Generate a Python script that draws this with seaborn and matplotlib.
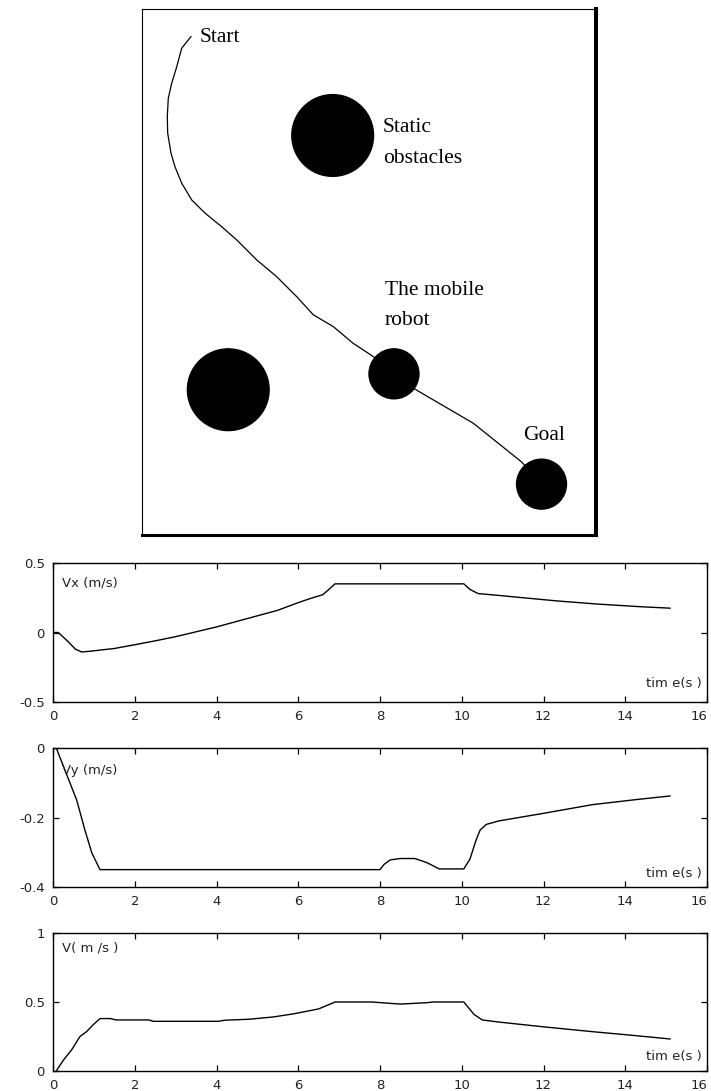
import matplotlib
matplotlib.use("Agg")
import matplotlib.pyplot as plt
from matplotlib.patches import Circle
import pandas as pd
import seaborn as sns

# ---- workspace (m) ----
obstacle_x = [4.2, 1.9]
obstacle_y = [8.8, 3.2]
obstacle_r = [0.9, 0.9]
robot_x, robot_y, robot_r = 5.55, 3.55, 0.55
goal_x, goal_y, goal_r = 8.8, 1.12, 0.55

path_x = [1.08, 0.874, 0.764, 0.654, 0.579, 0.557, 0.566, 0.639, 0.727,
          0.874, 1.095, 1.388, 1.755, 2.086, 2.526, 2.967, 3.407, 3.773,
          4.214, 4.654, 5.095, 5.55, 6.05, 7.30, 8.36, 8.80]
path_y = [10.98, 10.72, 10.31, 9.95, 9.62, 9.21, 8.85, 8.41, 8.11,
          7.75, 7.38, 7.09, 6.79, 6.50, 6.06, 5.69, 5.25, 4.85,
          4.59, 4.22, 3.93, 3.55, 3.19, 2.46, 1.61, 1.12]

map_labels = ["Start", "Static", "obstacles", "The mobile", "robot", "Goal"]
label_x = [1.28, 5.31, 5.31, 5.35, 5.35, 8.40]
label_y = [10.87, 8.88, 8.19, 5.29, 4.63, 2.09]

# ---- velocity profiles ----
vx_t = [0.0, 0.13, 0.35, 0.55, 0.7, 0.9, 1.5, 2.0, 2.5, 3.0, 3.5, 4.0, 4.5,
        5.0, 5.5, 6.0, 6.3, 6.6, 6.75, 6.9, 8.0, 9.0, 10.05, 10.2, 10.4,
        10.9, 11.5, 12.3, 13.3, 14.4, 15.1]
vx_v = [0.0, 0.0, -0.06, -0.12, -0.14, -0.135, -0.115, -0.088, -0.06, -0.03,
        0.005, 0.04, 0.08, 0.12, 0.16, 0.215, 0.245, 0.272, 0.31, 0.35, 0.35,
        0.35, 0.35, 0.31, 0.28, 0.267, 0.25, 0.228, 0.205, 0.185, 0.175]

vy_t = [0.08, 0.37, 0.58, 0.78, 0.95, 1.15, 8.0, 8.1, 8.25, 8.5, 8.85, 9.15,
        9.45, 10.05, 10.2, 10.35, 10.45, 10.6, 10.9, 12.0, 13.2, 14.3, 15.1]
vy_v = [0.0, -0.087, -0.15, -0.236, -0.302, -0.35, -0.35, -0.335, -0.322,
        -0.318, -0.318, -0.33, -0.348, -0.348, -0.32, -0.265, -0.236, -0.22,
        -0.21, -0.188, -0.163, -0.148, -0.138]

v_t = [0.08, 0.25, 0.46, 0.66, 0.82, 1.0, 1.15, 1.4, 1.55, 2.35, 2.45, 4.05,
       4.2, 4.8, 5.4, 5.9, 6.5, 6.9, 7.8, 8.5, 9.15, 9.3, 10.05, 10.3, 10.5,
       10.9, 12.0, 13.2, 14.3, 15.1]
v_v = [0.0, 0.077, 0.155, 0.25, 0.285, 0.34, 0.38, 0.38, 0.37, 0.37, 0.36,
       0.36, 0.368, 0.375, 0.392, 0.415, 0.45, 0.5, 0.5, 0.485, 0.495, 0.5,
       0.5, 0.41, 0.37, 0.355, 0.32, 0.285, 0.255, 0.232]

time_ticks = [0, 2, 4, 6, 8, 10, 12, 14, 16]
panels = [
    dict(t=vx_t, v=vx_v, ylim=(-0.5, 0.5), yticks=[-0.5, 0, 0.5],
         yticklabels=["-0.5", "0", "0.5"], name="Vx (m/s)",
         top=563, bottom=702, name_y=0.856, time_y=0.13),
    dict(t=vy_t, v=vy_v, ylim=(-0.4, 0.0), yticks=[-0.4, -0.2, 0],
         yticklabels=["-0.4", "-0.2", "0"], name="Vy (m/s)",
         top=748, bottom=887, name_y=0.84, time_y=0.10),
    dict(t=v_t, v=v_v, ylim=(0.0, 1.0), yticks=[0, 0.5, 1],
         yticklabels=["0", "0.5", "1"], name="V( m /s )",
         top=933, bottom=1071, name_y=0.89, time_y=0.104),
]
time_label = "tim e(s )"

sns.set_theme(style="ticks", rc={"axes.edgecolor": "black",
                                 "axes.linewidth": 1.0})
plt.rcParams["font.family"] = ["DejaVu Sans"]

W, H = 711, 1091
fig = plt.figure(figsize=(W / 100, H / 100), dpi=100)
fig.patch.set_facecolor("white")

# ---- workspace map ----
ax0 = fig.add_axes([142 / W, 1 - 535 / H, 454 / W, 526 / H])
ax0.set_xlim(0, 10)
ax0.set_ylim(0, 526 / 45.4)
ax0.set_xticks([])
ax0.set_yticks([])
for side, lw in (("left", 0.8), ("top", 0.8), ("right", 2.9), ("bottom", 2.2)):
    ax0.spines[side].set_linewidth(lw)
    ax0.spines[side].set_color("black")

path_df = pd.DataFrame({"x": path_x, "y": path_y})
sns.lineplot(data=path_df, x="x", y="y", sort=False, estimator=None,
             color="black", linewidth=0.9, ax=ax0, zorder=2)
ax0.set_xlabel("")
ax0.set_ylabel("")

for cx, cy, r in zip(obstacle_x, obstacle_y, obstacle_r):
    ax0.add_patch(Circle((cx, cy), r, color="black", zorder=3))
ax0.add_patch(Circle((robot_x, robot_y), robot_r, color="black", zorder=3))
ax0.add_patch(Circle((goal_x, goal_y), goal_r, color="black", zorder=3))

for txt, lx, ly in zip(map_labels, label_x, label_y):
    ax0.text(lx, ly, txt, family="Liberation Serif", fontsize=15.5,
             ha="left", va="baseline", color="black")

# ---- velocity panels ----
for p in panels:
    ax = fig.add_axes([53 / W, 1 - p["bottom"] / H, 654 / W,
                       (p["bottom"] - p["top"]) / H])
    df = pd.DataFrame({"t": p["t"], "v": p["v"]})
    sns.lineplot(data=df, x="t", y="v", sort=False, estimator=None,
                 color="black", linewidth=1.0, ax=ax)
    ax.set_xlim(0, 16)
    ax.set_ylim(*p["ylim"])
    ax.set_xticks(time_ticks)
    ax.set_xticklabels([str(v) for v in time_ticks])
    ax.set_yticks(p["yticks"])
    ax.set_yticklabels(p["yticklabels"])
    ax.set_xlabel("")
    ax.set_ylabel("")
    ax.tick_params(direction="in", length=4.5, width=0.9, top=True,
                   right=True, labelsize=9.5, pad=6, colors="black",
                   labelcolor="#222222")
    # keep the last time label inside the figure
    ax.get_xticklabels()[-1].set_horizontalalignment("right")
    for s in ax.spines.values():
        s.set_linewidth(1.0)
    ax.text(0.014, p["name_y"], p["name"], transform=ax.transAxes,
            fontsize=9.5, color="#222222", ha="left", va="center")
    ax.text(0.992, p["time_y"], time_label, transform=ax.transAxes,
            fontsize=9.5, color="#222222", ha="right", va="center")

fig.savefig("out.png", dpi=100, facecolor="white")
